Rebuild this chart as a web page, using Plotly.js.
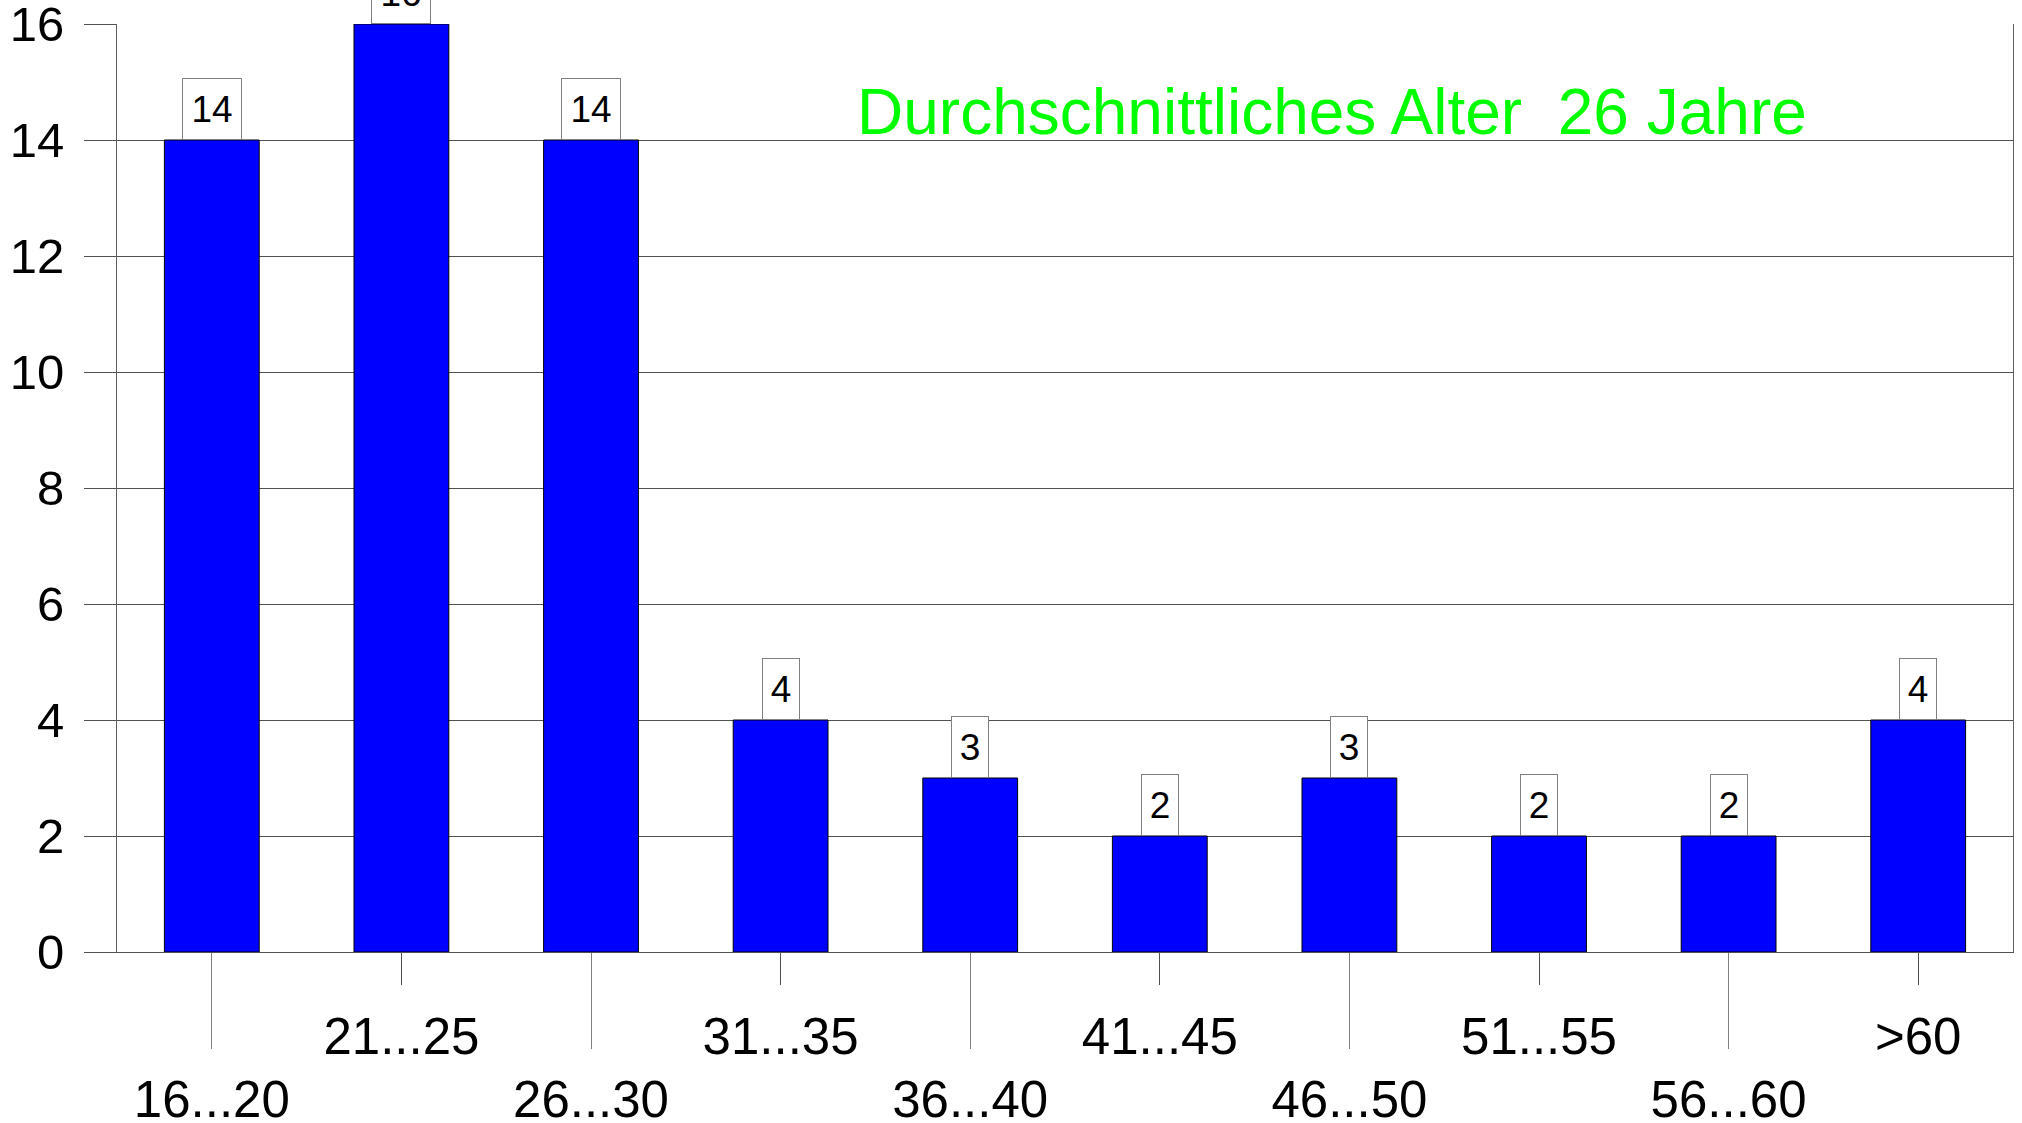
<!DOCTYPE html>
<html>
<head>
<meta charset="utf-8">
<script src="https://cdn.plot.ly/plotly-3.0.1.min.js"></script>
<style>html,body{margin:0;padding:0;background:#fff}#chart{width:2022px;height:1123px}</style>
</head>
<body>
<div id="chart"></div>
<script>
const categories = ["16...20","21...25","26...30","31...35","36...40","41...45","46...50","51...55","56...60",">60"];
const counts = [14,16,14,4,3,2,3,2,2,4];
const yTicks = [0,2,4,6,8,10,12,14,16];
const noteText = "Durchschnittliches Alter  26 Jahre";

const FONT = "Liberation Sans, Arial, Helvetica, sans-serif";
const idx = categories.map((c,i)=>i);
const upperIdx = idx.filter(i=>i%2===1);
const lowerIdx = idx.filter(i=>i%2===0);

const traces = [
  {
    type: "bar",
    x: categories,
    y: counts,
    marker: {color: "#0000ff", line: {color: "#000000", width: 1}},
    hoverinfo: "x+y",
    xaxis: "x", yaxis: "y"
  },
  {
    type: "scatter",
    mode: "none",
    x: idx,
    y: counts,
    xaxis: "x2", yaxis: "y",
    hoverinfo: "skip",
    showlegend: false
  }
];

const annotations = categories.map((c,i)=>({
  x: c, y: counts[i], xref: "x", yref: "y",
  xanchor: "center", yanchor: "bottom",
  text: String(counts[i]),
  showarrow: false,
  font: {family: FONT, size: 37, color: "#000"},
  bgcolor: "#ffffff",
  bordercolor: "#808080",
  borderwidth: 1,
  borderpad: 0,
  width: String(counts[i]).length > 1 ? 58 : 36,
  height: 60
}));
annotations.push({
  x: 0.3893, y: 0.9055, xref: "paper", yref: "paper",
  xanchor: "left", yanchor: "middle",
  text: noteText, showarrow: false,
  font: {family: FONT, size: 64, color: "#00ff00"}
});

const layout = {
  width: 2022, height: 1123,
  margin: {l: 117, r: 9.3, t: 24.3, b: 171, pad: 0},
  paper_bgcolor: "#ffffff",
  plot_bgcolor: "#ffffff",
  showlegend: false,
  bargap: 0.5,
  font: {family: FONT, color: "#000"},
  xaxis: {
    type: "category",
    range: [-0.5, categories.length - 0.5],
    tickmode: "array",
    tickvals: upperIdx.map(i=>categories[i]),
    ticktext: upperIdx.map(i=>categories[i]),
    ticks: "outside", ticklen: 32, tickwidth: 1, tickcolor: "#505050",
    ticklabelstandoff: 8,
    tickfont: {family: FONT, size: 51, color: "#000"},
    showgrid: false, zeroline: false,
    showline: true, linecolor: "#505050", linewidth: 1,
    fixedrange: true
  },
  xaxis2: {
    type: "linear",
    overlaying: "x", anchor: "y", side: "bottom",
    range: [-0.5, categories.length - 0.5],
    tickmode: "array",
    tickvals: lowerIdx,
    ticktext: lowerIdx.map(i=>categories[i]),
    ticks: "outside", ticklen: 96, tickwidth: 1, tickcolor: "#808080",
    ticklabelstandoff: 7,
    ticklabeloverflow: "allow",
    tickfont: {family: FONT, size: 51, color: "#000"},
    showgrid: false, zeroline: false, showline: false,
    fixedrange: true
  },
  yaxis: {
    range: [0, 16],
    tickmode: "array",
    tickvals: yTicks,
    ticktext: yTicks.map(String),
    ticks: "outside", ticklen: 32, tickwidth: 1, tickcolor: "#505050",
    ticklabelstandoff: 10,
    ticklabeloverflow: "allow",
    tickfont: {family: FONT, size: 49, color: "#000"},
    showgrid: true, gridcolor: "#505050", gridwidth: 1,
    zeroline: false,
    showline: true, mirror: true, linecolor: "#606060", linewidth: 1,
    fixedrange: true
  },
  annotations: annotations
};

Plotly.newPlot("chart", traces, layout, {displayModeBar: false, staticPlot: true});
</script>
</body>
</html>
